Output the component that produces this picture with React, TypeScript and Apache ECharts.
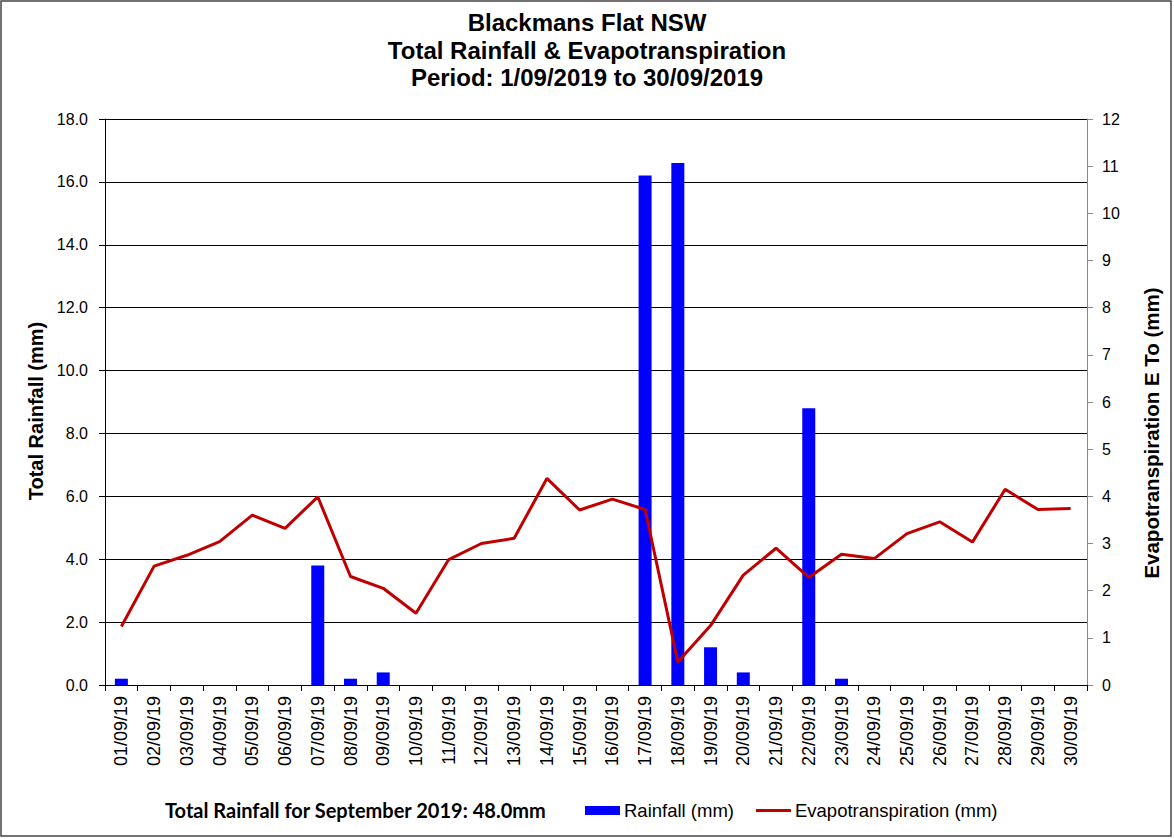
import React, { useEffect, useRef } from "react";
import * as echarts from "echarts";

const days: string[] = [
  "01/09/19","02/09/19","03/09/19","04/09/19","05/09/19","06/09/19","07/09/19","08/09/19","09/09/19","10/09/19",
  "11/09/19","12/09/19","13/09/19","14/09/19","15/09/19","16/09/19","17/09/19","18/09/19","19/09/19","20/09/19",
  "21/09/19","22/09/19","23/09/19","24/09/19","25/09/19","26/09/19","27/09/19","28/09/19","29/09/19","30/09/19",
];

const rainfall: number[] = [
  0.2, 0, 0, 0, 0, 0, 3.8, 0.2, 0.4, 0,
  0, 0, 0, 0, 0, 0, 16.2, 16.6, 1.2, 0.4,
  0, 8.8, 0.2, 0, 0, 0, 0, 0, 0, 0,
];

const evapo: number[] = [
  1.24, 2.52, 2.75, 3.04, 3.6, 3.32, 3.99, 2.3, 2.05, 1.52,
  2.66, 3.0, 3.11, 4.38, 3.71, 3.94, 3.72, 0.49, 1.26, 2.33,
  2.9, 2.28, 2.77, 2.68, 3.21, 3.46, 3.03, 4.15, 3.72, 3.74,
];

const titleLines: string[] = [
  "Blackmans Flat NSW",
  "Total Rainfall & Evapotranspiration",
  "Period: 1/09/2019 to 30/09/2019",
];

const totalText = "Total Rainfall for September 2019: 48.0mm";
const rainName = "Rainfall (mm)";
const etName = "Evapotranspiration (mm)";

export default function App() {
  const ref = useRef<HTMLDivElement>(null);
  useEffect(() => {
    if (!ref.current) return;
    const chart = echarts.init(ref.current, undefined, { renderer: "svg" });
    const font = "'Liberation Sans', Arial, sans-serif";
    chart.setOption({
      animation: false,
      backgroundColor: "#fff",
      textStyle: { fontFamily: font },
      title: {
        text: titleLines.join("\n"),
        left: "center",
        top: 9,
        padding: 0,
        textStyle: { fontSize: 24, fontWeight: "bold", color: "#000", lineHeight: 27.5, fontFamily: font },
      },
      graphic: [
        {
          type: "rect",
          shape: { x: 1, y: 1, width: 1170, height: 835 },
          style: { fill: "none", stroke: "#444", lineWidth: 1.5 },
          silent: true,
        },
        {
          type: "text",
          left: 165,
          top: 800,
          style: { text: totalText, fontSize: 20, fontWeight: "bold", fill: "#000", fontFamily: "Lato, 'Open Sans', sans-serif" },
        },
      ],
      legend: {
        left: 585,
        top: 801,
        padding: 0,
        itemWidth: 35,
        itemHeight: 9,
        itemGap: 22,
        textStyle: { fontSize: 18.5, color: "#000", padding: [0, 0, 0, -1] },
        data: [
          { name: rainName, icon: "rect" },
          { name: etName, icon: "path://M0,0 L35,0 L35,3 L0,3 Z" },
        ],
      },
      grid: { left: 105, right: 87, top: 119, bottom: 154 },
      xAxis: {
        type: "category",
        data: days,
        boundaryGap: true,
        axisLine: { lineStyle: { color: "#000", width: 1 } },
        axisTick: { show: true, alignWithLabel: false, length: 6, lineStyle: { color: "#000" } },
        axisLabel: { rotate: 90, fontSize: 18, color: "#000", margin: 11, interval: 0 },
      },
      yAxis: [
        {
          type: "value",
          min: 0,
          max: 18,
          interval: 2,
          name: "Total Rainfall (mm)",
          nameLocation: "middle",
          nameRotate: 90,
          nameGap: 58,
          nameTextStyle: { fontSize: 20, fontWeight: "bold", color: "#000", padding: [0, 18, 0, 0] },
          axisLine: { show: true, lineStyle: { color: "#000" } },
          axisTick: { show: true, length: 6, lineStyle: { color: "#000" } },
          axisLabel: { fontSize: 16, color: "#000", margin: 17, formatter: (v: number) => v.toFixed(1) },
          splitLine: { show: true, lineStyle: { color: "#000", width: 1 } },
        },
        {
          type: "value",
          min: 0,
          max: 12,
          interval: 1,
          position: "right",
          name: "Evapotranspiration E To (mm)",
          nameLocation: "middle",
          nameRotate: 90,
          nameGap: 54,
          nameTextStyle: { fontSize: 20.5, fontWeight: "bold", color: "#000", padding: [0, 62, 0, 0] },
          axisLine: { show: true, lineStyle: { color: "#888" } },
          axisTick: { show: true, length: 6, lineStyle: { color: "#888" } },
          axisLabel: { fontSize: 16, color: "#000", margin: 15 },
          splitLine: { show: false },
        },
      ],
      series: [
        {
          name: rainName,
          type: "bar",
          data: rainfall,
          yAxisIndex: 0,
          barWidth: 13,
          itemStyle: { color: "#0000ff" },
        },
        {
          name: etName,
          type: "line",
          data: evapo,
          yAxisIndex: 1,
          symbol: "none",
          lineStyle: { color: "#c00000", width: 3 },
          itemStyle: { color: "#c00000" },
        },
      ],
    });
    return () => chart.dispose();
  }, []);
  return <div ref={ref} style={{ position: "fixed", left: 0, top: 0, width: 1174, height: 839 }} />;
}
